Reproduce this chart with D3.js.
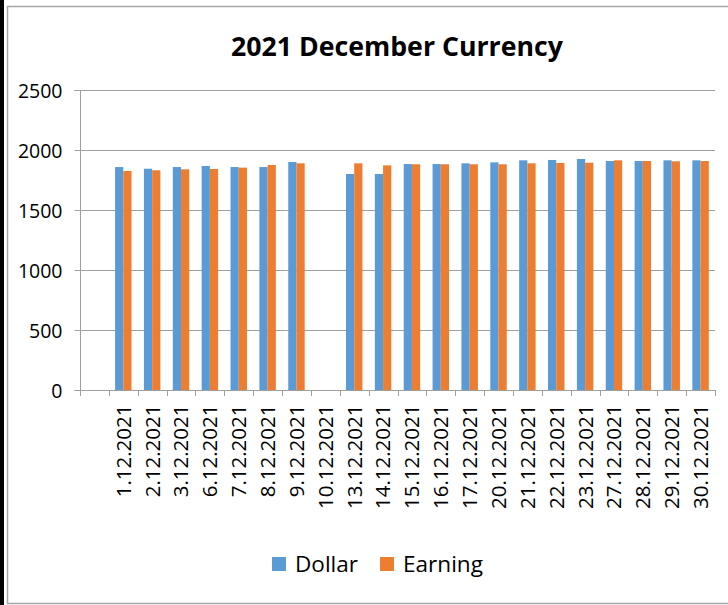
<!DOCTYPE html>
<html><head><meta charset="utf-8">
<script src="https://cdn.jsdelivr.net/npm/d3@7"></script>
<style>body{margin:0;background:#fff}svg{display:block}text{font-family:"Open Sans",sans-serif;fill:#000}</style>
</head><body>
<svg id="c" width="728" height="605"></svg>
<script>
const categories = ["", "1.12.2021","2.12.2021","3.12.2021","6.12.2021","7.12.2021","8.12.2021","9.12.2021","10.12.2021","13.12.2021","14.12.2021","15.12.2021","16.12.2021","17.12.2021","20.12.2021","21.12.2021","22.12.2021","23.12.2021","27.12.2021","28.12.2021","29.12.2021","30.12.2021"];
const dollar  = [null,1858,1844,1858,1867,1858,1858,1900,null,1800,1800,1883,1883,1889,1897,1914,1917,1925,1908,1908,1914,1914];
const earning = [null,1825,1831,1839,1842,1853,1875,1889,null,1889,1872,1881,1881,1881,1881,1889,1892,1894,1914,1908,1906,1908];
const seriesNames = ["Dollar","Earning"];
const colors = ["#5B9BD5","#ED7D31"];
const yTicks = [0,500,1000,1500,2000,2500];
const title = "2021 December Currency";

const svg = d3.select("#c");
function fit(sel, target){
  const w = sel.node().getComputedTextLength();
  const fs = parseFloat(sel.style("font-size"));
  sel.style("font-size", (fs*target/w).toFixed(2)+"px");
}
// frame
svg.append("rect").attr("x",0).attr("y",0).attr("width",4).attr("height",605).attr("fill","#000");
svg.append("rect").attr("x",7.5).attr("y",6.5).attr("width",740).attr("height",597).attr("fill","none").attr("stroke","#a6a6a6").attr("stroke-width",1.5);

const x0 = d3.scaleBand().domain(categories.map((d,i)=>i)).range([80,715]).paddingInner(0).paddingOuter(0);
const y = d3.scaleLinear().domain([0,2500]).range([390,90]);
const groupW = x0.bandwidth()*0.57;
const x1 = d3.scaleBand().domain([0,1]).range([0,groupW]);

// gridlines
svg.append("g").selectAll("line").data(yTicks.filter(d=>d>0)).join("line")
  .attr("x1",80).attr("x2",715).attr("y1",d=>y(d)+0.5).attr("y2",d=>y(d)+0.5)
  .attr("stroke","#a0a0a0").attr("stroke-width",1.2);

// bars
const series = [dollar, earning];
series.forEach((vals,s)=>{
  svg.append("g").selectAll("rect").data(vals.map((v,i)=>({v,i})).filter(d=>d.v!=null)).join("rect")
    .attr("x",d=>x0(d.i)+(x0.bandwidth()-groupW)/2+x1(s))
    .attr("width",x1.bandwidth())
    .attr("y",d=>y(d.v)).attr("height",d=>y(0)-y(d.v))
    .attr("fill",colors[s]);
});

// y axis
const yAxis = d3.axisLeft(y).tickValues(yTicks).tickFormat(d3.format("d")).tickSize(6).tickPadding(12);
const gy = svg.append("g").attr("transform","translate(80.5,0)").call(yAxis);
gy.select(".domain").attr("stroke","#a0a0a0").attr("d","M-6,90.5H0V390.5H-6");
gy.selectAll(".tick line").attr("stroke","#a0a0a0");
gy.selectAll(".tick text").style("font-size","19.5px").style("font-family","'Open Sans',sans-serif").attr("fill","#000").attr("dy","0.36em");

// x axis
const xAxis = d3.axisBottom(x0).tickSize(0).tickFormat(i=>categories[i]);
const gx = svg.append("g").attr("transform","translate(0,390.5)").call(xAxis);
gx.select(".domain").attr("stroke","#a0a0a0").attr("d","M80,0H715");
svg.append("g").selectAll("line").data(d3.range(categories.length+1)).join("line")
  .attr("x1",i=>Math.round(80+i*x0.step())+0.5).attr("x2",i=>Math.round(80+i*x0.step())+0.5)
  .attr("y1",390).attr("y2",396).attr("stroke","#a0a0a0");
gx.selectAll(".tick text")
  .attr("transform","rotate(-90)").attr("text-anchor","end")
  .attr("x",-14).attr("y",0).attr("dy","0.36em")
  .style("font-size","20.5px").style("font-family","'Open Sans',sans-serif").attr("fill","#000");

// title
const t = svg.append("text").attr("x",397).attr("y",56).attr("text-anchor","middle")
  .style("font-size","25px").style("font-weight","bold").text(title);
fit(t, 332);

// legend
const leg = svg.append("g");
const legX = [272, 380];
const legW = [63, 80];
seriesNames.forEach((n,s)=>{
  leg.append("rect").attr("x",legX[s]).attr("y",557).attr("width",14).attr("height",14).attr("fill",colors[s]);
  const lt = leg.append("text").attr("x",legX[s]+23).attr("y",572).style("font-size","22px").text(n);
  fit(lt, legW[s]);
});
</script>
</body></html>
